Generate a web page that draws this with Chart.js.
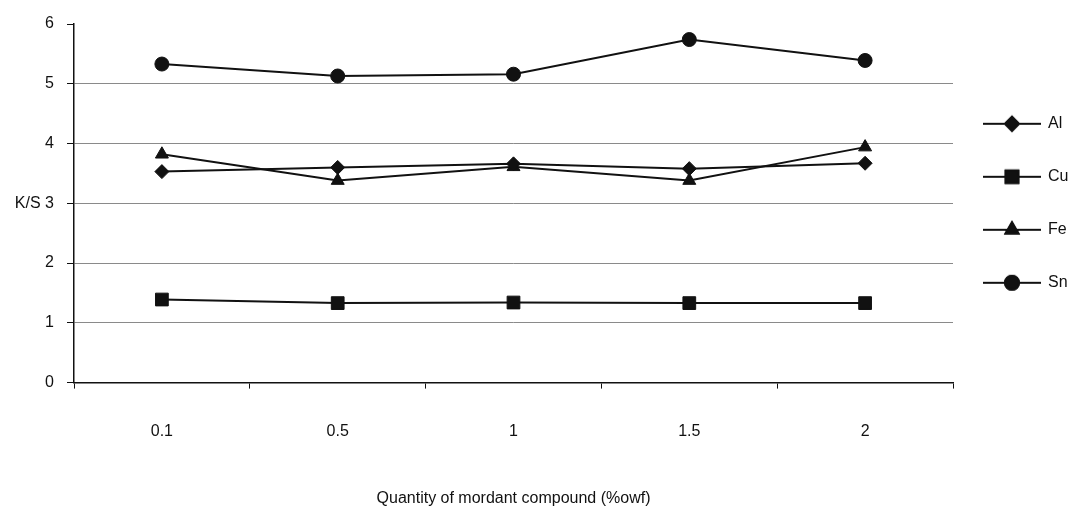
<!DOCTYPE html>
<html>
<head>
<meta charset="utf-8">
<script src="https://cdn.jsdelivr.net/npm/chart.js@4"></script>
<style>
  html, body { margin: 0; padding: 0; background: #fff; }
  #wrap { width: 1072px; height: 511px; }
</style>
</head>
<body>
<div id="wrap"><canvas id="chart" width="1072" height="511"></canvas></div>
<script>
// ── Data ─────────────────────────────────────────────────────
const categories = ['0.1', '0.5', '1', '1.5', '2'];
const alValues = [3.53, 3.60, 3.66, 3.58, 3.67];
const cuValues = [1.39, 1.33, 1.34, 1.33, 1.33];
const feValues = [3.82, 3.38, 3.61, 3.38, 3.94];
const snValues = [5.33, 5.13, 5.16, 5.74, 5.39];
const yTicks = [0, 1, 2, 3, 4, 5, 6];

const FONT = 'Liberation Sans, Arial, sans-serif';
const INK  = '#111';

// ── Legend icons: line with marker across it ────────────────
function legendIcon(style, radius) {
  const c = document.createElement('canvas');
  c.width = 68; c.height = 20;
  const ctx = c.getContext('2d');
  ctx.strokeStyle = INK;
  ctx.lineWidth = 2;
  ctx.beginPath();
  ctx.moveTo(2, 10); ctx.lineTo(60, 10);
  ctx.stroke();
  ctx.fillStyle = INK;
  Chart.helpers.drawPoint(ctx, { pointStyle: style, radius, rotation: 0, borderWidth: 1 }, 31, 10);
  ctx.fill();
  ctx.stroke();
  return c;
}

const series = [
  { label: 'Al', data: alValues, style: 'rectRot',  r: 7 },
  { label: 'Cu', data: cuValues, style: 'rect',     r: 9 },
  { label: 'Fe', data: feValues, style: 'triangle', r: 7.5 },
  { label: 'Sn', data: snValues, style: 'circle',   r: 7 },
];
const icons = series.map(s => legendIcon(s.style, s.r));

// "K/S" written horizontally next to the 3 tick
const ksLabel = {
  id: 'ksLabel',
  afterDraw(chart) {
    const y = chart.scales.y;
    const ctx = chart.ctx;
    ctx.save();
    ctx.font = '16px ' + FONT;
    ctx.fillStyle = INK;
    ctx.textAlign = 'right';
    ctx.textBaseline = 'middle';
    const x = y.right - 7 - 13 - ctx.measureText('3 ').width;
    ctx.fillText('K/S', x, y.getPixelForValue(3));
    ctx.restore();
  }
};

new Chart(document.getElementById('chart'), {
  type: 'line',
  data: {
    labels: categories,
    datasets: series.map(s => ({
      label: s.label,
      data: s.data,
      borderColor: INK,
      backgroundColor: INK,
      borderWidth: 2,
      pointStyle: s.style,
      pointRadius: s.r,
      pointHoverRadius: s.r,
      pointBorderWidth: 1,
      tension: 0,
      fill: false,
    })),
  },
  options: {
    responsive: false,
    animation: false,
    layout: { padding: { top: 24, right: 0, left: 0, bottom: 0 } },
    plugins: {
      tooltip: { enabled: false },
      legend: {
        position: 'right',
        fullSize: false,
        maxWidth: 119,
        labels: {
          usePointStyle: true,
          pointStyleWidth: 50,
          padding: 37,
          color: INK,
          font: { family: FONT, size: 16 },
          generateLabels: chart =>
            Chart.defaults.plugins.legend.labels.generateLabels(chart)
              .map((l, i) => ({ ...l, pointStyle: icons[i] })),
        },
      },
    },
    scales: {
      x: {
        offset: true,
        border: { color: INK, width: 1.5 },
        grid: {
          offset: true,
          drawOnChartArea: false,
          drawTicks: true,
          tickLength: 6,
          tickColor: INK,
        },
        ticks: {
          padding: 33,
          color: INK,
          font: { family: FONT, size: 16 },
          maxRotation: 0,
        },
        title: {
          display: true,
          text: 'Quantity of mordant compound (%owf)',
          color: INK,
          font: { family: FONT, size: 16 },
          padding: { top: 15, bottom: 3 },
        },
      },
      y: {
        min: 0,
        max: 6,
        afterBuildTicks: s => { s.ticks = yTicks.map(v => ({ value: v })); },
        afterFit: s => { s.width = 74; },
        border: { color: INK, width: 1.5 },
        grid: {
          color: c => (c.tick && c.tick.value === 6) ? 'rgba(0,0,0,0)' : '#8a8a8a',
          lineWidth: 1,
          tickLength: 7,
          tickColor: INK,
        },
        ticks: {
          padding: 13,
          color: INK,
          font: { family: FONT, size: 16 },
        },
      },
    },
  },
  plugins: [ksLabel],
});
</script>
</body>
</html>
